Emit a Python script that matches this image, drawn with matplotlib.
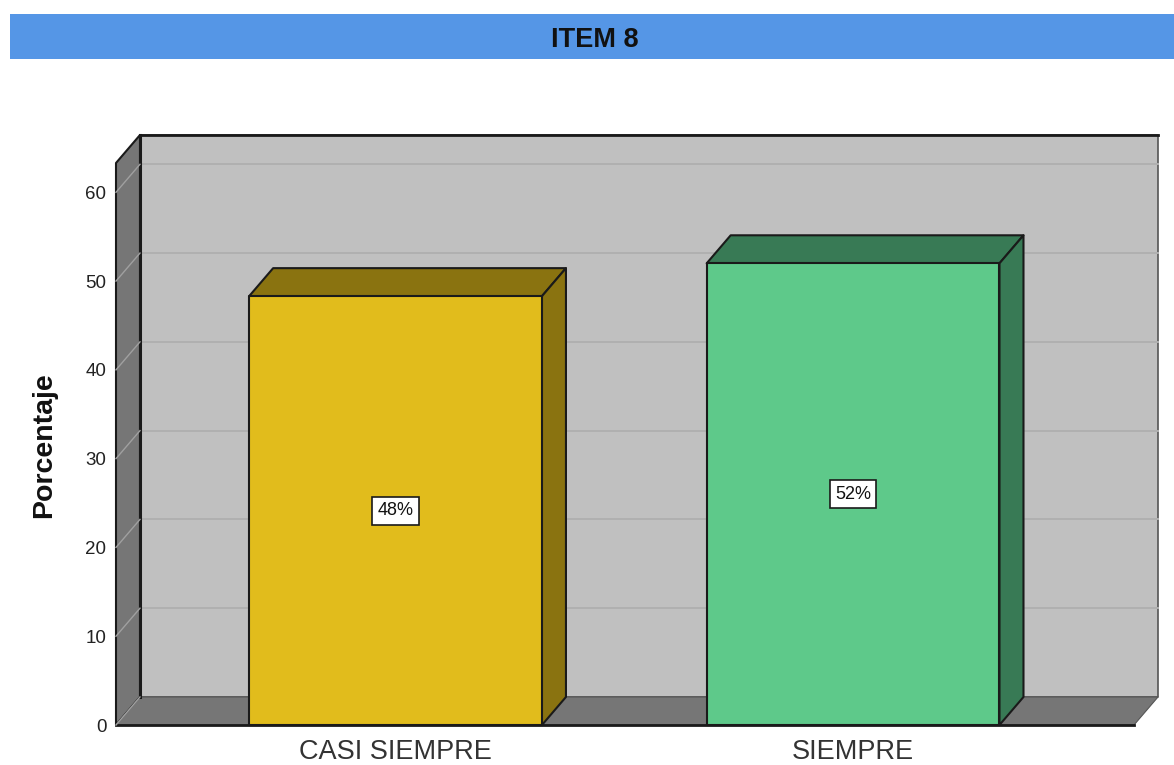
import matplotlib
matplotlib.use('Agg')
from matplotlib import pyplot as plt
from matplotlib.patches import Polygon, Rectangle

plt.rcParams['font.family'] = ['Liberation Sans', 'DejaVu Sans']

categories = ['CASI SIEMPRE', 'SIEMPRE']
values = [48.3, 52.0]
value_labels = ['48%', '52%']
front_colors = ['#E1BC1C', '#5EC98A']
shade_colors = ['#8A7310', '#387A55']
y_ticks = [0, 10, 20, 30, 40, 50, 60]

W, H = 1174, 765
fig = plt.figure(figsize=(W / 100, H / 100), dpi=100)
fig.patches.append(Rectangle((10 / W, 1 - 59 / H), (W - 10) / W, 45 / H,
                             transform=fig.transFigure, color='#5596E6', lw=0))
fig.text(595 / W, 1 - 40 / H, 'ITEM 8', ha='center', va='center',
         fontsize=19.5, fontweight='bold', color='#111111')

ax = fig.add_axes([116 / W, 1 - 725 / H, 1018 / W, 562 / H])
x_left, x_right = -0.611, 1.614
y_top = 63.3
ax.set_xlim(x_left, x_right)
ax.set_ylim(0, y_top)
for s in ax.spines.values():
    s.set_visible(False)
ax.patch.set_visible(False)

# depth of the fake 3d box, in data units
dx = 24 / 457.5
dy = 28 / 8.87
edge = '#1A1A1A'


def poly(pts, fc, z, lw=1.5, ec=edge):
    ax.add_patch(Polygon(pts, closed=True, facecolor=fc, edgecolor=ec, linewidth=lw,
                         zorder=z, clip_on=False, joinstyle='round'))


# back wall, side wall, floor
poly([(x_left + dx, dy), (x_right + dx, dy), (x_right + dx, y_top + dy), (x_left + dx, y_top + dy)],
     '#C0C0C0', 1, lw=1.2, ec='#555555')
poly([(x_left, 0), (x_left + dx, dy), (x_left + dx, y_top + dy), (x_left, y_top)], '#767676', 2)
poly([(x_left, 0), (x_right, 0), (x_right + dx, dy), (x_left + dx, dy)], '#767676', 2, lw=0.8, ec='#555555')
ax.plot([x_left, x_right], [0, 0], color=edge, lw=2, zorder=3, clip_on=False)
ax.plot([x_left + dx, x_right + dx], [y_top + dy, y_top + dy], color=edge, lw=2, zorder=3, clip_on=False)
ax.plot([x_left + dx, x_left + dx], [dy, y_top + dy], color=edge, lw=2.2, zorder=3, clip_on=False)

for t in y_ticks[1:]:
    ax.plot([x_left + dx, x_right + dx], [t + dy, t + dy], color='#B0B0B0', lw=1.4, zorder=2, clip_on=False)
for t in y_ticks:
    ax.plot([x_left, x_left + dx], [t, t + dy], color='#A0A0A0', lw=1.0, zorder=3, clip_on=False)

bar_w = 0.64
for i, (v, lab) in enumerate(zip(values, value_labels)):
    l, r = i - bar_w / 2, i + bar_w / 2
    poly([(l, v), (r, v), (r + dx, v + dy), (l + dx, v + dy)], shade_colors[i], 4)
    poly([(r, 0), (r + dx, dy), (r + dx, v + dy), (r, v)], shade_colors[i], 4)
    poly([(l, 0), (r, 0), (r, v), (l, v)], front_colors[i], 5)
    ax.text(i, v / 2, lab, ha='center', va='center', fontsize=13, color='#111111', zorder=6,
            bbox=dict(boxstyle='square,pad=0.3', facecolor='white', edgecolor='#1A1A1A', linewidth=1.2))

ax.set_yticks(y_ticks)
ax.set_yticklabels([str(t) for t in y_ticks], fontsize=13.5, color='#222222')
ax.set_xticks([0, 1])
ax.set_xticklabels(categories, fontsize=19.5, color='#333333')
ax.tick_params(axis='y', length=0, pad=7)
ax.tick_params(axis='x', length=0, pad=10)

fig.text(44 / W, 1 - 445 / H, 'Porcentaje', rotation=90, ha='center', va='center',
         fontsize=20.5, fontweight='bold', color='#111111')

fig.savefig('out.png', dpi=100)
